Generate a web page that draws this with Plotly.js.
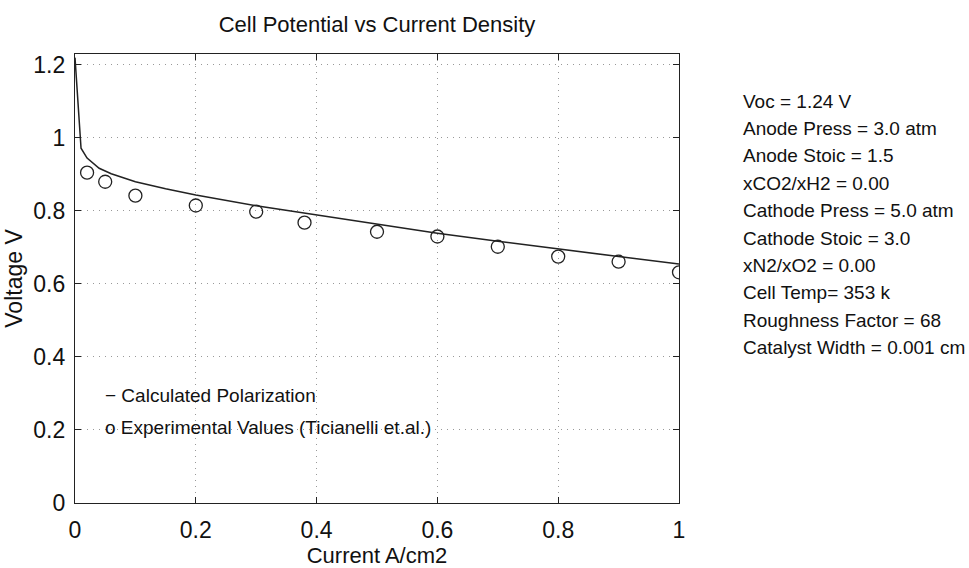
<!DOCTYPE html>
<html>
<head>
<meta charset="utf-8">
<script src="https://cdn.plot.ly/plotly-3.0.1.min.js"></script>
<style>html,body{margin:0;padding:0;background:#fff;}#chart{width:969px;height:568px;}</style>
</head>
<body>
<div id="chart"></div>
<script>
// Calculated polarization curve
const calcCurrent = [0, 0.01, 0.02, 0.04, 0.06, 0.08, 0.1, 0.15, 0.2, 0.3, 0.4, 0.5, 0.6, 0.7, 0.8, 0.9, 1.0];
const calcVoltage = [1.22, 0.972, 0.945, 0.917, 0.902, 0.890, 0.880, 0.861, 0.844, 0.814, 0.789, 0.764, 0.739, 0.717, 0.695, 0.675, 0.655];
// Experimental values (Ticianelli et.al.)
const expCurrent = [0.02, 0.05, 0.10, 0.20, 0.30, 0.38, 0.50, 0.60, 0.70, 0.80, 0.90, 1.00];
const expVoltage = [0.905, 0.880, 0.842, 0.815, 0.798, 0.768, 0.743, 0.730, 0.702, 0.675, 0.661, 0.632];
// Text
const xTicks = [0, 0.2, 0.4, 0.6, 0.8, 1];
const yTicks = [0, 0.2, 0.4, 0.6, 0.8, 1, 1.2];
const legendLines = ["− Calculated Polarization", "o Experimental Values (Ticianelli et.al.)"];
const paramLines = ["Voc = 1.24 V", "Anode Press = 3.0 atm", "Anode Stoic = 1.5", "xCO2/xH2 = 0.00",
  "Cathode Press = 5.0 atm", "Cathode Stoic = 3.0", "xN2/xO2 = 0.00", "Cell Temp= 353 k",
  "Roughness Factor = 68", "Catalyst Width = 0.001 cm"];

const FONT = "Liberation Sans, Arial, Helvetica, sans-serif";
const H = 568, plotTop = 54, plotBot = 503;
function paperY(py){ return (plotBot - py) / (plotBot - plotTop); }

const traces = [
  {x: calcCurrent, y: calcVoltage, type: 'scatter', mode: 'lines',
   line: {color: '#222', width: 1.5}, hoverinfo: 'skip'},
  {x: expCurrent, y: expVoltage, type: 'scatter', mode: 'markers',
   marker: {symbol: 'circle-open', size: 13, color: '#222', line: {width: 1.3, color: '#222'}}, hoverinfo: 'skip'}
];

const annotations = [];
legendLines.forEach((t, i) => {
  annotations.push({text: t, xref: 'paper', yref: 'paper', x: 0.046, y: paperY(395 + i * 32),
    xanchor: 'left', yanchor: 'middle', showarrow: false, font: {family: FONT, size: 19, color: '#111'}});
});
paramLines.forEach((t, i) => {
  annotations.push({text: t, xref: 'paper', yref: 'paper', x: (741 - 75) / 604, y: paperY(101 + i * 27.4),
    xanchor: 'left', yanchor: 'middle', showarrow: false, font: {family: FONT, size: 19, color: '#111'}});
});

const axisCommon = {
  showline: true, linecolor: '#222', linewidth: 1.2, mirror: 'ticks',
  ticks: 'inside', ticklen: 6, tickcolor: '#222', tickwidth: 1,
  showgrid: true, gridcolor: '#999', gridwidth: 1, griddash: '1px,5px',
  zeroline: false, tickfont: {family: FONT, size: 23, color: '#111'}
};

const layout = {
  width: 969, height: 568,
  margin: {l: 75, r: 290, t: plotTop, b: H - plotBot},
  paper_bgcolor: '#fff', plot_bgcolor: '#fff',
  showlegend: false,
  title: {text: 'Cell Potential vs Current Density', font: {family: FONT, size: 22, color: '#111'},
          x: 377 / 969, xanchor: 'center', xref: 'container', yref: 'container', y: 1 - 24 / H, yanchor: 'middle'},
  xaxis: Object.assign({}, axisCommon, {range: [0, 1], tickvals: xTicks, ticktext: xTicks.map(String),
    ticklabelstandoff: 6,
    title: {text: 'Current A/cm2', font: {family: FONT, size: 22, color: '#111'}, standoff: 0}}),
  yaxis: Object.assign({}, axisCommon, {range: [0, 1.23], tickvals: yTicks, ticktext: yTicks.map(String),
    ticklabelstandoff: 4,
    title: {text: 'Voltage V', font: {family: FONT, size: 23, color: '#111'}, standoff: 4}}),
  annotations: annotations
};

Plotly.newPlot('chart', traces, layout, {staticPlot: true, displayModeBar: false});
</script>
</body>
</html>
